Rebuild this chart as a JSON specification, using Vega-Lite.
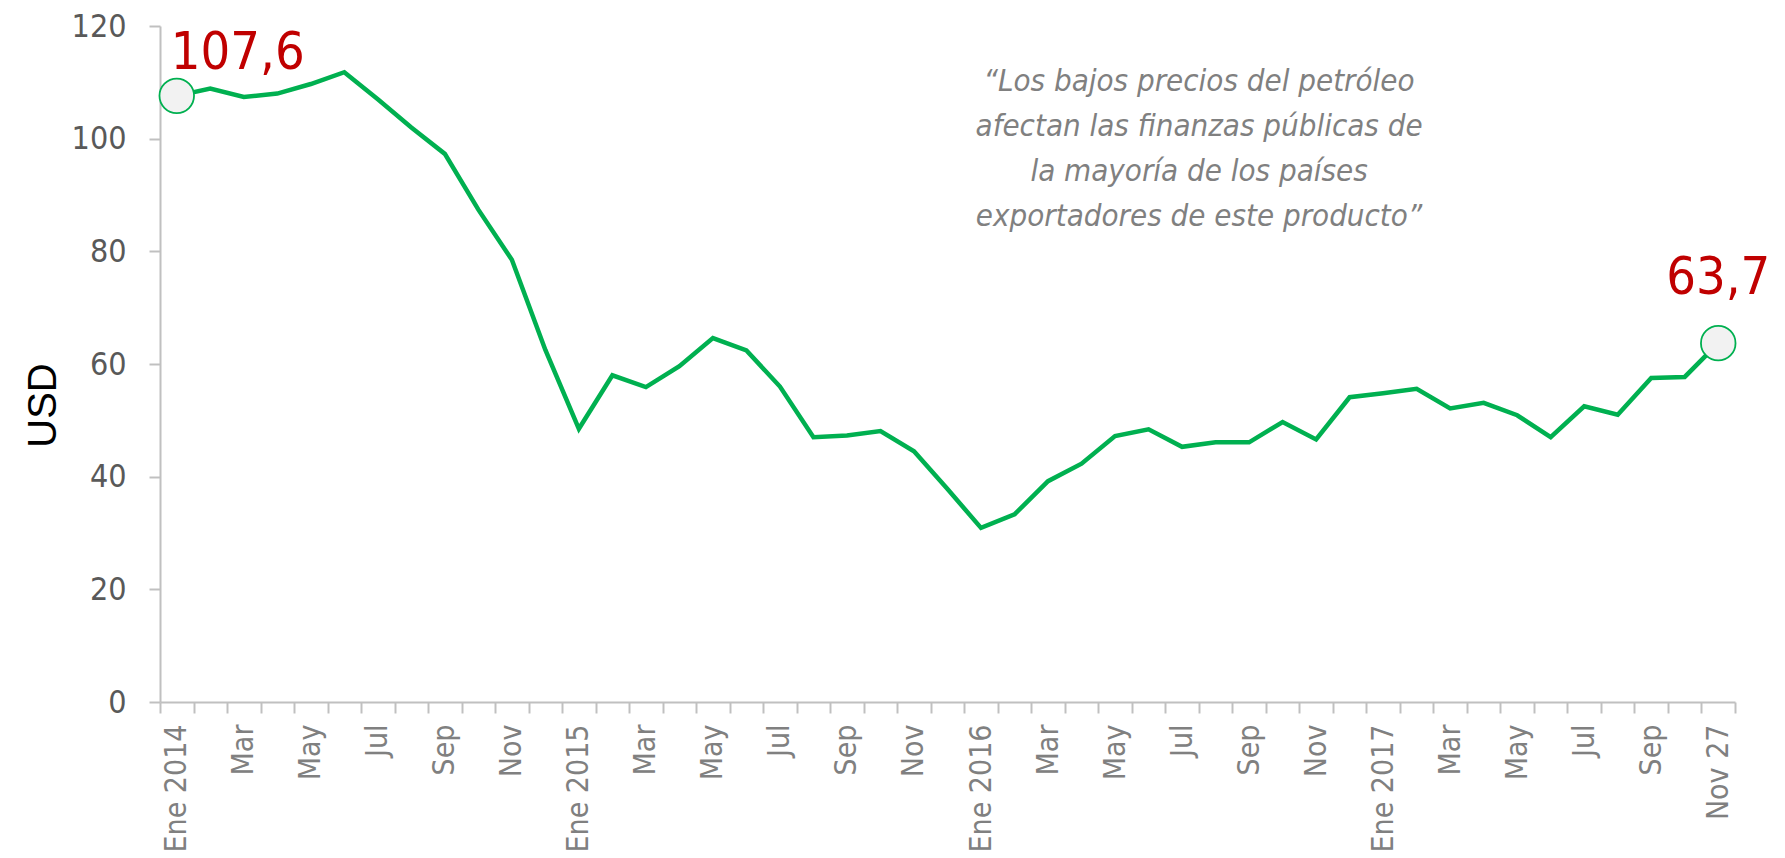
{
  "$schema": "https://vega.github.io/schema/vega-lite/v6.json",
  "autosize": {"type": "none"},
  "padding": {"left": 160, "top": 26, "right": 50, "bottom": 156},
  "width": 1575,
  "height": 676,
  "background": "white",
  "config": {
    "view": {"stroke": null},
    "font": "DejaVu Sans Condensed, Liberation Sans, sans-serif"
  },
  "data": {
    "values": [
      {"mes": "Ene 2014", "precio": 107.6},
      {"mes": "Feb 2014", "precio": 108.9},
      {"mes": "Mar 2014", "precio": 107.4},
      {"mes": "Abr 2014", "precio": 108.0},
      {"mes": "May 2014", "precio": 109.7},
      {"mes": "Jun 2014", "precio": 111.8},
      {"mes": "Jul 2014", "precio": 107.0},
      {"mes": "Ago 2014", "precio": 102.0},
      {"mes": "Sep 2014", "precio": 97.3},
      {"mes": "Oct 2014", "precio": 87.4},
      {"mes": "Nov 2014", "precio": 78.5},
      {"mes": "Dic 2014", "precio": 62.5},
      {"mes": "Ene 2015", "precio": 48.5},
      {"mes": "Feb 2015", "precio": 58.0},
      {"mes": "Mar 2015", "precio": 55.9},
      {"mes": "Abr 2015", "precio": 59.6},
      {"mes": "May 2015", "precio": 64.6},
      {"mes": "Jun 2015", "precio": 62.4},
      {"mes": "Jul 2015", "precio": 56.0},
      {"mes": "Ago 2015", "precio": 47.0},
      {"mes": "Sep 2015", "precio": 47.3},
      {"mes": "Oct 2015", "precio": 48.1},
      {"mes": "Nov 2015", "precio": 44.5},
      {"mes": "Dic 2015", "precio": 37.8},
      {"mes": "Ene 2016", "precio": 30.9},
      {"mes": "Feb 2016", "precio": 33.3},
      {"mes": "Mar 2016", "precio": 39.2},
      {"mes": "Abr 2016", "precio": 42.3},
      {"mes": "May 2016", "precio": 47.2},
      {"mes": "Jun 2016", "precio": 48.4},
      {"mes": "Jul 2016", "precio": 45.3},
      {"mes": "Ago 2016", "precio": 46.1},
      {"mes": "Sep 2016", "precio": 46.1},
      {"mes": "Oct 2016", "precio": 49.7},
      {"mes": "Nov 2016", "precio": 46.6},
      {"mes": "Dic 2016", "precio": 54.1},
      {"mes": "Ene 2017", "precio": 54.8},
      {"mes": "Feb 2017", "precio": 55.6},
      {"mes": "Mar 2017", "precio": 52.1},
      {"mes": "Abr 2017", "precio": 53.1},
      {"mes": "May 2017", "precio": 50.9},
      {"mes": "Jun 2017", "precio": 47.0},
      {"mes": "Jul 2017", "precio": 52.5},
      {"mes": "Ago 2017", "precio": 51.0},
      {"mes": "Sep 2017", "precio": 57.5},
      {"mes": "Oct 2017", "precio": 57.7},
      {"mes": "Nov 27", "precio": 63.7}
    ]
  },
  "encoding": {
    "x": {
      "field": "mes",
      "type": "ordinal",
      "sort": null,
      "scale": {"type": "band", "paddingInner": 0, "paddingOuter": 0},
      "axis": {
        "title": null,
        "tickBand": "extent",
        "labelAngle": 270,
        "labelFontSize": 30,
        "labelColor": "#808080",
        "labelPadding": 11,
        "labelOverlap": false,
        "labelBound": false,
        "labelFlush": false,
        "tickSize": 11,
        "tickWidth": 2,
        "tickColor": "#c0c0c0",
        "domainColor": "#c0c0c0",
        "domainWidth": 2,
        "grid": false,
        "labelExpr": "(datum.value + '') == 'Nov 27' || test(/^Ene /, datum.value + '') ? datum.value : (test(/^(Mar|May|Jul|Sep|Nov) /, datum.value + '') ? substring(datum.value + '', 0, 3) : '')"
      }
    },
    "y": {
      "field": "precio",
      "type": "quantitative",
      "scale": {"domain": [0, 120], "nice": false, "zero": true},
      "axis": {
        "title": "USD",
        "titleFont": "Liberation Sans, Arial, sans-serif",
        "titleFontSize": 40,
        "titleFontWeight": "normal",
        "titleColor": "#000000",
        "titleAngle": 270,
        "titleAlign": "center",
        "titleBaseline": "alphabetic",
        "titleX": -105,
        "titleY": 379,
        "values": [0, 20, 40, 60, 80, 100, 120],
        "labelFontSize": 32,
        "labelColor": "#595959",
        "labelPadding": 23,
        "tickSize": 11,
        "tickWidth": 2,
        "tickColor": "#c0c0c0",
        "domainColor": "#c0c0c0",
        "domainWidth": 2,
        "grid": false
      }
    }
  },
  "layer": [
    {
      "mark": {"type": "line", "color": "#00b050", "strokeWidth": 4.5}
    },
    {
      "transform": [{"filter": "datum.mes == 'Ene 2014' || datum.mes == 'Nov 27'"}],
      "mark": {"type": "circle", "size": 1195, "fill": "#f2f2f2", "stroke": "#00b050", "strokeWidth": 1.8, "opacity": 1}
    },
    {
      "transform": [{"filter": "datum.mes == 'Ene 2014'"}],
      "mark": {"type": "text", "align": "left", "baseline": "alphabetic", "dx": -6, "dy": -27, "fontSize": 52, "color": "#c00000", "text": {"expr": "replace(format(datum.precio, '.1f'), '.', ',')"}}
    },
    {
      "transform": [{"filter": "datum.mes == 'Nov 27'"}],
      "mark": {"type": "text", "align": "center", "baseline": "alphabetic", "dx": 0, "dy": -49, "fontSize": 52, "color": "#c00000", "text": {"expr": "replace(format(datum.precio, '.1f'), '.', ',')"}}
    },
    {
      "transform": [{"filter": "datum.mes == 'Jul 2016'"}],
      "mark": {
        "type": "text",
        "text": ["“Los bajos precios del petróleo", "afectan las finanzas públicas de", "la mayoría de los países", "exportadores de este producto”"],
        "align": "center",
        "baseline": "alphabetic",
        "fontSize": 31,
        "fontStyle": "italic",
        "lineHeight": 45,
        "color": "#808080",
        "dx": 17
      },
      "encoding": {
        "y": {"datum": 108.5, "type": "quantitative"}
      }
    }
  ]
}
